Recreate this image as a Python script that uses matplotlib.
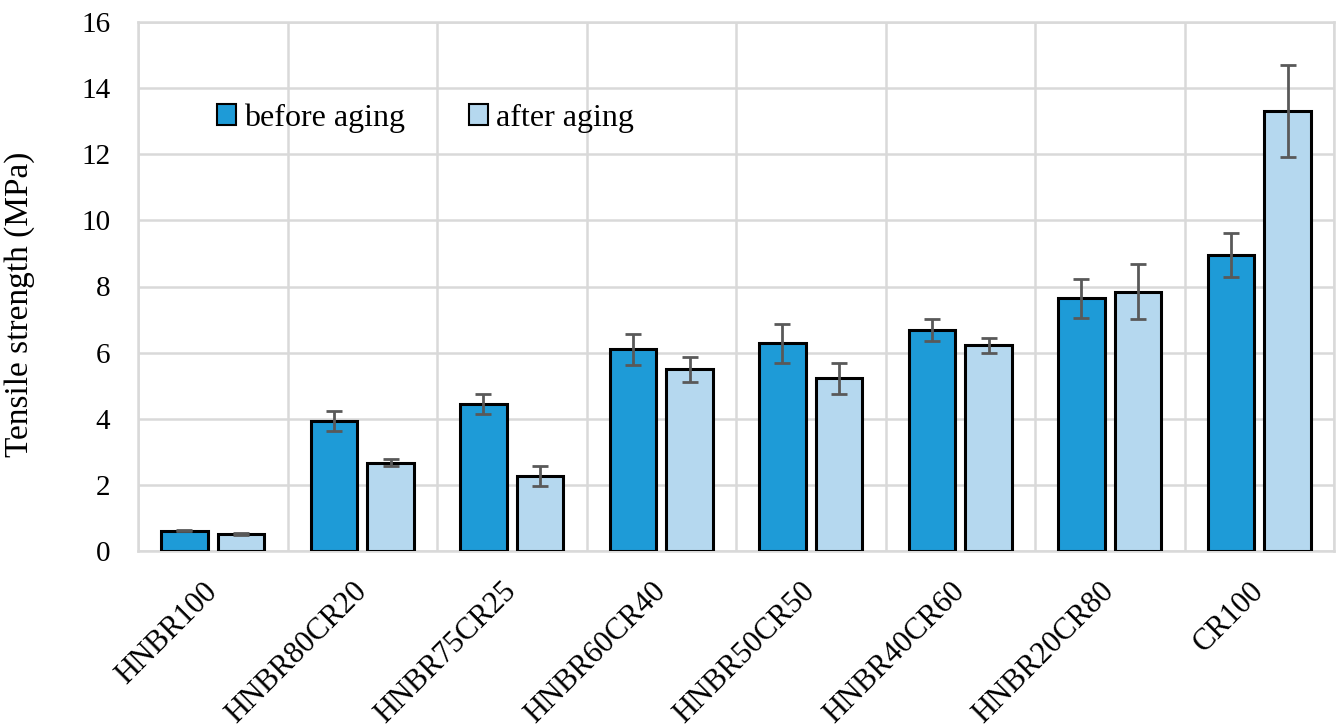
import matplotlib
matplotlib.use("Agg")
import matplotlib.pyplot as plt
import numpy as np
from matplotlib.patches import Patch

categories = ["HNBR100", "HNBR80CR20", "HNBR75CR25", "HNBR60CR40",
              "HNBR50CR50", "HNBR40CR60", "HNBR20CR80", "CR100"]
before_aging = [0.61, 3.93, 4.44, 6.10, 6.28, 6.68, 7.64, 8.95]
before_err = [0.02, 0.29, 0.30, 0.47, 0.59, 0.33, 0.60, 0.67]
after_aging = [0.51, 2.67, 2.27, 5.49, 5.22, 6.22, 7.84, 13.31]
after_err = [0.03, 0.10, 0.30, 0.37, 0.46, 0.23, 0.83, 1.38]
yticks = [0, 2, 4, 6, 8, 10, 12, 14, 16]

plt.rcParams['font.family'] = ['Liberation Serif', 'DejaVu Serif']

c_before = "#1E9BD7"
c_after = "#B5D8EF"
grid_c = "#D9D9D9"
err_c = "#595959"

fig = plt.figure(figsize=(13.4, 7.27), dpi=100)
ax = fig.add_axes([138/1340, 1-551/727, (1334-138)/1340, (551-22)/727])

x = np.arange(len(categories))
w = 0.31
off = 0.19
ekw = dict(ecolor=err_c, elinewidth=2, capsize=5.5, capthick=2, zorder=4)
ax.bar(x - off, before_aging, w, color=c_before, edgecolor="black", linewidth=2.2,
       yerr=before_err, error_kw=ekw, zorder=3, label="before aging")
ax.bar(x + off, after_aging, w, color=c_after, edgecolor="black", linewidth=2.2,
       yerr=after_err, error_kw=ekw, zorder=3, label="after aging")

ax.set_xlim(-0.5, len(categories) - 0.5)
ax.set_ylim(0, 16)
ax.set_yticks(yticks)
ax.set_yticklabels([str(t) for t in yticks], fontsize=21)
ax.tick_params(axis='y', length=0, pad=20)
ax.tick_params(axis='x', length=0)

ax.set_xticks(x)
ax.set_xticklabels(categories, rotation=45, ha='right', va='center',
                   rotation_mode='anchor', fontsize=22)
ax.tick_params(axis='x', pad=26)

ax.set_xticks(np.arange(len(categories) + 1) - 0.5, minor=True)
ax.tick_params(axis='x', which='minor', length=0)
ax.grid(True, which='minor', axis='x', color=grid_c, linewidth=1.8, zorder=0)
ax.grid(True, which='major', axis='y', color=grid_c, linewidth=1.8, zorder=0)
ax.set_axisbelow(True)
for s in ax.spines.values():
    s.set_color(grid_c)
    s.set_linewidth(1.8)

ax.set_ylabel("Tensile strength (MPa)", fontsize=24)
ax.yaxis.set_label_coords(-0.086, 0.467)

handles = [Patch(facecolor=c_before, edgecolor="black", linewidth=1.5),
           Patch(facecolor=c_after, edgecolor="black", linewidth=1.5)]
leg = ax.legend(handles, ["before aging", "after aging"], ncol=2, frameon=False,
                loc='center left', bbox_to_anchor=(0.042, 0.8185), fontsize=23,
                handlelength=0.6, handleheight=0.6, handletextpad=0.25,
                columnspacing=2.0)

fig.savefig("out.png", dpi=100, facecolor="white")
